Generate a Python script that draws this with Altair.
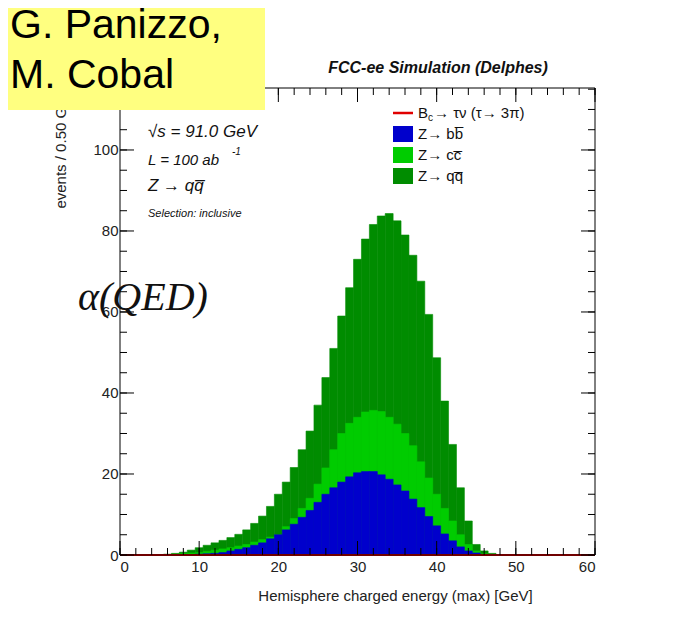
import pandas as pd
import altair as alt

# bin centres (GeV), stacked tops
energy = list(range(6, 48))
total = [0.2, 0.4, 0.7, 1.2, 1.8, 2.4, 3.0, 3.6, 4.3, 5.1, 6.2, 7.8, 9.6, 12, 15, 18, 21.6, 26,
         30.6, 37, 43.8, 51, 59, 66, 73, 78, 81.6, 83.7, 84.3, 82.5, 79, 74, 67.6, 59.4, 48.7,
         38, 27.3, 16.6, 8.4, 2.6, 1.0, 0.4]
cc_top = [0, 0.2, 0.4, 0.5, 0.6, 0.9, 1.2, 1.5, 1.8, 2.2, 2.6, 3.2, 3.8, 4.4, 5, 7, 9, 11.5,
          14, 17.5, 21.5, 26, 30, 32.5, 34, 35.3, 35.7, 35.4, 34, 32.3, 30, 27, 23, 19, 15,
          11.5, 8.4, 5, 2.6, 1.0, 0.3, 0]
bb_top = [0, 0, 0, 0.1, 0.2, 0.3, 0.4, 0.6, 1.0, 1.4, 1.8, 2.4, 3.0, 4.0, 5.0, 6.2, 7.6, 9.3,
          11, 13, 15, 16.6, 18, 19.3, 20.3, 20.6, 20.6, 19.8, 18.7, 17.3, 15.8, 13.8, 11.7, 9.5,
          7.2, 5.2, 3.5, 2.0, 1.0, 0.5, 0, 0]

W, H = 475, 467
XMAX, YMAX = 60, 115.3

rows = []
for name, vals in [("q", total), ("c", cc_top), ("b", bb_top)]:
    for e, v in zip(energy, vals):
        rows.append({"s": name, "lo": e - 0.5, "hi": e + 0.5, "v": v})
df = pd.DataFrame(rows)
colors = {"q": "#008c00", "c": "#00cc00", "b": "#0000cc"}

xs = alt.Scale(domain=[0, XMAX], nice=False)
ys = alt.Scale(domain=[0, YMAX], nice=False)

layers = []
for name in ["q", "c", "b"]:
    layers.append(alt.Chart(df[df.s == name]).mark_rect(
        color=colors[name], stroke=colors[name], strokeWidth=0.6).encode(
        x=alt.X("lo:Q", scale=xs, title="Hemisphere charged energy (max) [GeV]",
                axis=alt.Axis(values=[0, 10, 20, 30, 40, 50, 60], ticks=False, domain=False,
                              grid=False,
                              labelFont="Liberation Sans", labelFontSize=15, labelColor="#222",
                              titleFont="Liberation Sans", titleFontSize=15,
                              titleFontWeight="normal", titleX=275, titleAlign="center",
                              titlePadding=14, titleColor="#222", labelPadding=4)),
        x2="hi:Q",
        y=alt.Y("v:Q", scale=ys, title="events / 0.50 GeV",
                axis=alt.Axis(values=[0, 20, 40, 60, 80, 100], ticks=False, domain=False,
                              grid=False,
                              labelFont="Liberation Sans", labelFontSize=15, labelColor="#222",
                              titleFont="Liberation Sans", titleFontSize=15,
                              titleFontWeight="normal", titleAnchor="end", titlePadding=24,
                              titleColor="#222")),
        y2=alt.datum(0),
    ))

# red signal line at zero
sig = pd.DataFrame({"x": [0, XMAX], "y": [0, 0]})
layers.append(alt.Chart(sig).mark_line(color="#e00000", strokeWidth=2).encode(
    x=alt.X("x:Q", scale=xs), y=alt.Y("y:Q", scale=ys)))

# frame
frame = pd.DataFrame({"a": [0]})
layers.append(alt.Chart(frame).mark_rect(fill=None, stroke="black", strokeWidth=1).encode(
    x=alt.value(0), x2=alt.value(W), y=alt.value(0), y2=alt.value(H)))

# ROOT-style inward ticks
xmaj = pd.DataFrame({"t": [0, 10, 20, 30, 40, 50, 60]})
xmin = pd.DataFrame({"t": [v for v in range(0, 61, 2)]})
ymaj = pd.DataFrame({"t": [0, 20, 40, 60, 80, 100]})
ymin = pd.DataFrame({"t": [v for v in range(0, 116, 5)]})
for d, ln in [(xmaj, 14), (xmin, 7)]:
    layers.append(alt.Chart(d).mark_rule(color="black").encode(
        x=alt.X("t:Q", scale=xs), y=alt.value(H), y2=alt.value(H - ln)))
    layers.append(alt.Chart(d).mark_rule(color="black").encode(
        x=alt.X("t:Q", scale=xs), y=alt.value(0), y2=alt.value(ln)))
for d, ln in [(ymaj, 14), (ymin, 7)]:
    layers.append(alt.Chart(d).mark_rule(color="black").encode(
        y=alt.Y("t:Q", scale=ys), x=alt.value(0), x2=alt.value(ln)))
    layers.append(alt.Chart(d).mark_rule(color="black").encode(
        y=alt.Y("t:Q", scale=ys), x=alt.value(W), x2=alt.value(W - ln)))


def txt(s, x, y, size=15, style="normal", weight="normal", font="Liberation Sans",
        align="left", color="#111"):
    return alt.Chart(frame).mark_text(text=s, fontSize=size, fontStyle=style, fontWeight=weight,
                                      font=font, align=align, baseline="middle", color=color
                                      ).encode(x=alt.value(x), y=alt.value(y))


# annotations
layers += [
    txt("√s = 91.0 GeV", 28, 44, 17, "italic"),
    txt("L = 100 ab", 28, 72, 15, "italic"),
    txt("-1", 112, 64, 10, "italic"),
    txt("Z → qq\u0305", 28, 98, 17, "italic"),
    txt("Selection: inclusive", 28, 126, 11, "italic"),
    txt("α(QED)", -42, 210, 40, "italic", font="Liberation Serif"),
    txt("FCC-ee Simulation (Delphes)", 318, -20, 16, "italic", "bold", align="center"),
]
# legend
leg_y = [25, 46, 67, 88]
layers.append(alt.Chart(frame).mark_rule(color="#e00000", strokeWidth=2.5).encode(
    x=alt.value(273), x2=alt.value(293), y=alt.value(leg_y[0])))
for yy, c in zip(leg_y[1:], ["#0000cc", "#00cc00", "#008c00"]):
    layers.append(alt.Chart(frame).mark_rect(color=c).encode(
        x=alt.value(273), x2=alt.value(293), y=alt.value(yy - 8), y2=alt.value(yy + 8)))
layers += [
    txt("B", 298, leg_y[0]),
    txt("c", 308, leg_y[0] + 5, 10),
    txt("→ τν (τ→ 3π)", 314, leg_y[0]),
    txt("Z→ bb\u0305", 298, leg_y[1]),
    txt("Z→ cc\u0305", 298, leg_y[2]),
    txt("Z→ qq\u0305", 298, leg_y[3]),
]
# yellow name box
layers.append(alt.Chart(frame).mark_rect(color="#ffff80").encode(
    x=alt.value(-112), x2=alt.value(145), y=alt.value(-88), y2=alt.value(22)))
layers += [
    txt("G. Panizzo,", -110, -62, 41, color="black"),
    txt("M. Cobal", -110, -12, 41, color="black"),
]

chart = alt.layer(*layers).properties(
    width=W, height=H,
    autosize=alt.AutoSizeParams(type="none"),
    padding={"left": 112, "top": 80, "right": 60, "bottom": 70},
).configure_view(stroke=None)

chart.save("out.html", embed_options={"renderer": "svg", "actions": False})
